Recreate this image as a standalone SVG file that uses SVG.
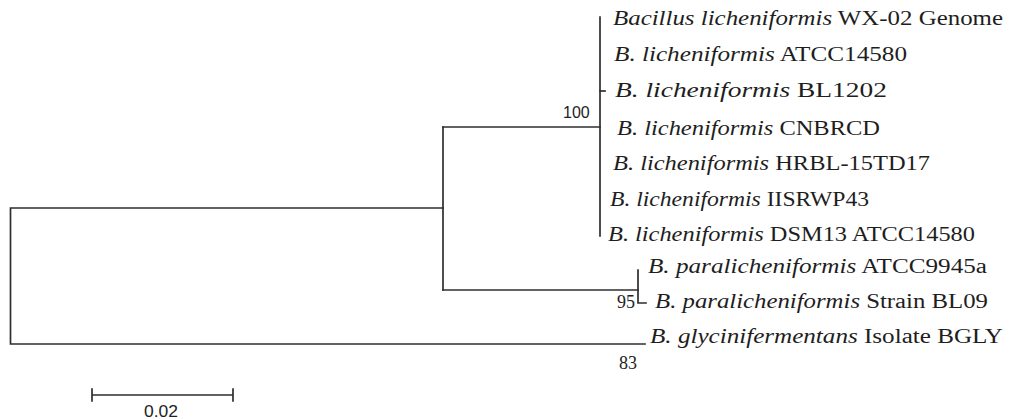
<svg xmlns="http://www.w3.org/2000/svg" width="1015" height="419" viewBox="0 0 1015 419">
<style>
.br{fill:none;stroke:#2e2e2e;stroke-width:1.7;stroke-linecap:square}
.lb{font-family:"Liberation Serif","Times New Roman",serif;font-size:20px;fill:#1e1e1e}
.it{font-style:italic}
.bs{font-family:"Liberation Sans",Arial,sans-serif;font-size:16px;fill:#222}
.bv{font-family:"Liberation Serif","Times New Roman",serif;font-size:18px;fill:#222}
</style>
<rect width="1015" height="419" fill="#fff"/>
<g id="connectors">
<path class="br" d="M443,208 H10.5 V344 H645"/>
<path class="br" d="M443,127 V290"/>
<path class="br" d="M443,127 H600"/>
<path class="br" d="M600,17 V236"/>
<path class="br" d="M600,91 H605"/>
<path class="br" d="M443,290 H638"/>
<path class="br" d="M638,270 V303 H646"/>
</g>
<g id="n1"><text class="lb" x="613" y="25" textLength="390" lengthAdjust="spacingAndGlyphs"><tspan class="it">Bacillus licheniformis</tspan> WX-02 Genome</text></g>
<g id="n2"><text class="lb" x="614" y="61" textLength="293" lengthAdjust="spacingAndGlyphs"><tspan class="it">B. licheniformis</tspan> ATCC14580</text></g>
<g id="n3"><text class="lb" x="615" y="97" textLength="272" lengthAdjust="spacingAndGlyphs"><tspan class="it">B. licheniformis</tspan> BL1202</text></g>
<g id="n4"><text class="lb" x="617" y="135" textLength="263" lengthAdjust="spacingAndGlyphs"><tspan class="it">B. licheniformis</tspan> CNBRCD</text></g>
<g id="n5"><text class="lb" x="613" y="170" textLength="317" lengthAdjust="spacingAndGlyphs"><tspan class="it">B. licheniformis</tspan> HRBL-15TD17</text></g>
<g id="n6"><text class="lb" x="610" y="206" textLength="259" lengthAdjust="spacingAndGlyphs"><tspan class="it">B. licheniformis</tspan> IISRWP43</text></g>
<g id="n7"><text class="lb" x="608" y="241" textLength="367" lengthAdjust="spacingAndGlyphs"><tspan class="it">B. licheniformis</tspan> DSM13 ATCC14580</text></g>
<g id="n8"><text class="lb" x="648" y="273" textLength="339" lengthAdjust="spacingAndGlyphs"><tspan class="it">B. paralicheniformis</tspan> ATCC9945a</text></g>
<g id="n9"><text class="lb" x="655" y="308" textLength="333" lengthAdjust="spacingAndGlyphs"><tspan class="it">B. paralicheniformis</tspan> Strain BL09</text></g>
<g id="n10"><text class="lb" x="650" y="343" textLength="353" lengthAdjust="spacingAndGlyphs"><tspan class="it">B. glycinifermentans</tspan> Isolate BGLY</text></g>
<g id="bootstrap">
<text class="bs" x="563" y="118">100</text>
<text class="bv" x="617" y="308">95</text>
<text class="bv" x="619" y="369">83</text>
</g>
<g id="scale">
<path class="br" d="M92,395 H233 M92,389 V401 M233,389 V401"/>
<text class="bs" x="144" y="417" textLength="34" lengthAdjust="spacingAndGlyphs">0.02</text>
</g>
</svg>
